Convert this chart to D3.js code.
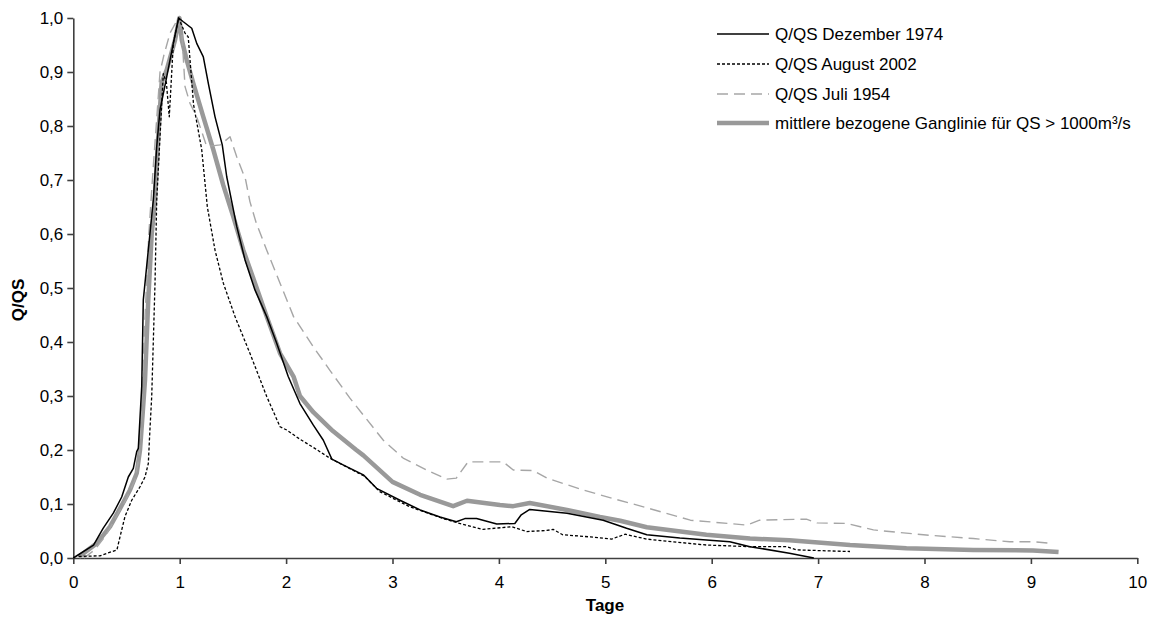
<!DOCTYPE html>
<html lang="de">
  <head>
    <meta charset="utf-8">
    <title>Q/QS Ganglinien</title>
    <style>
      body { margin: 0; background: #fff; }
      svg { display: block; background: #fff; }
      text { font-family: 'Liberation Sans', Arial, sans-serif; fill: #000; }
      .axis text { font-size: 17px; }
      .axis .domain, .axis .tick line { stroke: #404040; stroke-width: 1.6; }
      .axis-label { font-size: 17px; font-weight: bold; }
      .legend text { font-size: 17px; }
    </style>
  </head>
  <body>
    <div id="chart"></div>
    <script src="https://d3js.org/d3.v7.min.js"></script>
    <script>
      // values: [Tage, Q/QS]
      const dez1974 = [[0,0],[0.19,0.024],[0.28,0.055],[0.376,0.083],[0.455,0.113],[0.517,0.15],[0.564,0.166],
        [0.596,0.197],[0.611,0.203],[0.643,0.317],[0.658,0.478],[0.72,0.6],[0.752,0.663],[0.784,0.762],[0.815,0.83],
        [0.878,0.891],[0.94,0.953],[0.99,1.0],[1.034,0.993],[1.113,0.981],[1.16,0.953],[1.222,0.928],[1.269,0.879],
        [1.332,0.817],[1.40,0.765],[1.442,0.706],[1.536,0.614],[1.614,0.552],[1.708,0.496],[1.818,0.447],[1.911,0.398],
        [2.02,0.336],[2.13,0.286],[2.256,0.246],[2.35,0.218],[2.43,0.183],[2.54,0.172],[2.726,0.154],[2.85,0.129],
        [3.07,0.107],[3.26,0.089],[3.446,0.076],[3.6,0.067],[3.68,0.073],[3.79,0.073],[3.98,0.063],[4.15,0.064],
        [4.21,0.08],[4.29,0.09],[4.64,0.083],[4.98,0.07],[5.2,0.055],[5.39,0.043],[5.7,0.037],[6.17,0.030],
        [6.36,0.021],[6.73,0.009],[6.96,0.0]];
      const aug2002 = [[0.05,0.003],[0.25,0.004],[0.41,0.015],[0.44,0.04],[0.486,0.077],[0.549,0.107],[0.627,0.132],
        [0.674,0.15],[0.705,0.175],[0.72,0.237],[0.737,0.299],[0.768,0.509],[0.784,0.663],[0.846,0.897],[0.875,0.88],
        [0.902,0.817],[0.94,0.953],[0.99,1.0],[1.05,0.972],[1.08,0.965],[1.13,0.84],[1.207,0.756],[1.26,0.65],
        [1.332,0.57],[1.41,0.509],[1.52,0.447],[1.66,0.379],[1.818,0.299],[1.943,0.243],[2.006,0.237],[2.13,0.22],
        [2.27,0.203],[2.41,0.185],[2.74,0.151],[2.88,0.123],[3.16,0.095],[3.477,0.073],[3.63,0.064],[3.85,0.053],
        [4.12,0.058],[4.26,0.049],[4.45,0.051],[4.51,0.053],[4.6,0.043],[4.86,0.039],[5.06,0.035],[5.185,0.044],
        [5.39,0.035],[5.64,0.030],[5.95,0.024],[6.36,0.021],[6.7,0.021],[6.8,0.015],[7.3,0.012]];
      const jul1954 = [[0.1,0],[0.2,0.015],[0.3,0.04],[0.4,0.075],[0.5,0.11],[0.58,0.145],[0.62,0.19],[0.645,0.3],
        [0.675,0.45],[0.71,0.6],[0.75,0.72],[0.79,0.83],[0.815,0.9],[0.85,0.93],[0.909,0.972],[0.987,1.0],[1.02,0.972],
        [1.05,0.873],[1.097,0.842],[1.16,0.817],[1.254,0.762],[1.38,0.765],[1.473,0.78],[1.536,0.743],[1.62,0.7],
        [1.66,0.66],[1.72,0.62],[1.818,0.57],[1.943,0.509],[2.07,0.447],[2.256,0.391],[2.41,0.348],[2.6,0.296],
        [2.914,0.218],[3.1,0.185],[3.32,0.163],[3.51,0.146],[3.6,0.148],[3.71,0.178],[4.04,0.178],[4.135,0.163],
        [4.32,0.162],[4.45,0.148],[4.79,0.126],[5.075,0.11],[5.39,0.093],[5.8,0.07],[6.33,0.061],[6.45,0.07],
        [6.89,0.072],[6.99,0.065],[7.27,0.064],[7.52,0.052],[7.99,0.043],[8.46,0.036],[8.8,0.030],[9.02,0.030],
        [9.21,0.027]];
      const mittel = [[0.05,0.002],[0.22,0.027],[0.345,0.058],[0.44,0.092],[0.533,0.126],[0.596,0.157],[0.627,0.2],
        [0.652,0.268],[0.674,0.33],[0.705,0.48],[0.737,0.6],[0.768,0.663],[0.8,0.787],[0.83,0.88],[0.878,0.904],
        [0.956,0.959],[0.997,1.0],[1.02,0.959],[1.066,0.922],[1.128,0.879],[1.222,0.817],[1.316,0.756],[1.41,0.69],
        [1.504,0.632],[1.598,0.57],[1.708,0.509],[1.818,0.447],[1.943,0.379],[2.07,0.336],[2.13,0.30],[2.256,0.27],
        [2.44,0.235],[2.66,0.2],[2.726,0.19],[3.0,0.141],[3.26,0.117],[3.57,0.096],[3.7,0.106],[4.01,0.098],
        [4.135,0.096],[4.29,0.102],[4.64,0.089],[4.95,0.076],[5.14,0.069],[5.39,0.057],[5.95,0.043],[6.36,0.036],
        [6.73,0.033],[7.3,0.024],[7.83,0.018],[8.46,0.015],[9.02,0.014],[9.26,0.011]];

      const xTicks = d3.range(0, 11);
      const yTicks = d3.range(0, 11).map(d => d / 10);
      const legendLabels = ["Q/QS Dezember 1974", "Q/QS August 2002", "Q/QS Juli 1954",
        "mittlere bezogene Ganglinie für QS > 1000m³/s"];

      const width = 1154, height = 619;
      const x = d3.scaleLinear().domain([0, 10]).range([73.3, 1137.3]);
      const y = d3.scaleLinear().domain([0, 1]).range([558, 18]);
      const fmt = d => d3.format(".1f")(d).replace(".", ",");

      const svg = d3.select("#chart").append("svg")
        .attr("width", width).attr("height", height);

      const series = [
        {data: dez1974, color: "#000", w: 1.5, dash: null},
        {data: aug2002, color: "#000", w: 1.3, dash: "3,2"},
        {data: jul1954, color: "#a6a6a6", w: 1.4, dash: "11,6"},
        {data: mittel, color: "#999", w: 4.5, dash: null}
      ];

      const line = d3.line().x(d => x(d[0])).y(d => y(d[1]));

      // axes
      svg.append("g").attr("class", "axis")
        .attr("transform", "translate(73.3,0)")
        .call(d3.axisLeft(y).tickValues(yTicks).tickSize(6).tickPadding(4).tickSizeOuter(0).tickFormat(fmt));
      svg.append("g").attr("class", "axis")
        .attr("transform", "translate(0,558)")
        .call(d3.axisBottom(x).tickValues(xTicks).tickSize(6).tickPadding(12).tickSizeOuter(0));

      // drawn in reverse so the black lines sit on top of the grey mean
      svg.append("g").selectAll("path")
        .data(series.slice().reverse())
        .join("path")
        .attr("d", d => line(d.data))
        .attr("fill", "none")
        .attr("stroke", d => d.color)
        .attr("stroke-width", d => d.w)
        .attr("stroke-dasharray", d => d.dash)
        .attr("stroke-linejoin", "round");

      svg.append("text").attr("class", "axis-label")
        .attr("x", 605).attr("y", 611).attr("text-anchor", "middle").text("Tage");
      svg.append("text").attr("class", "axis-label")
        .attr("transform", "translate(24,300) rotate(-90)").attr("text-anchor", "middle").text("Q/QS");

      // legend
      const legendY = [34, 64, 94, 123];
      const legend = svg.append("g").attr("class", "legend");
      series.forEach((s, i) => {
        legend.append("line")
          .attr("x1", 717).attr("x2", 769).attr("y1", legendY[i]).attr("y2", legendY[i])
          .attr("stroke", s.color).attr("stroke-width", s.w).attr("stroke-dasharray", s.dash);
        legend.append("text")
          .attr("x", 775).attr("y", legendY[i] + 6).text(legendLabels[i]);
      });
    </script>
  </body>
</html>
